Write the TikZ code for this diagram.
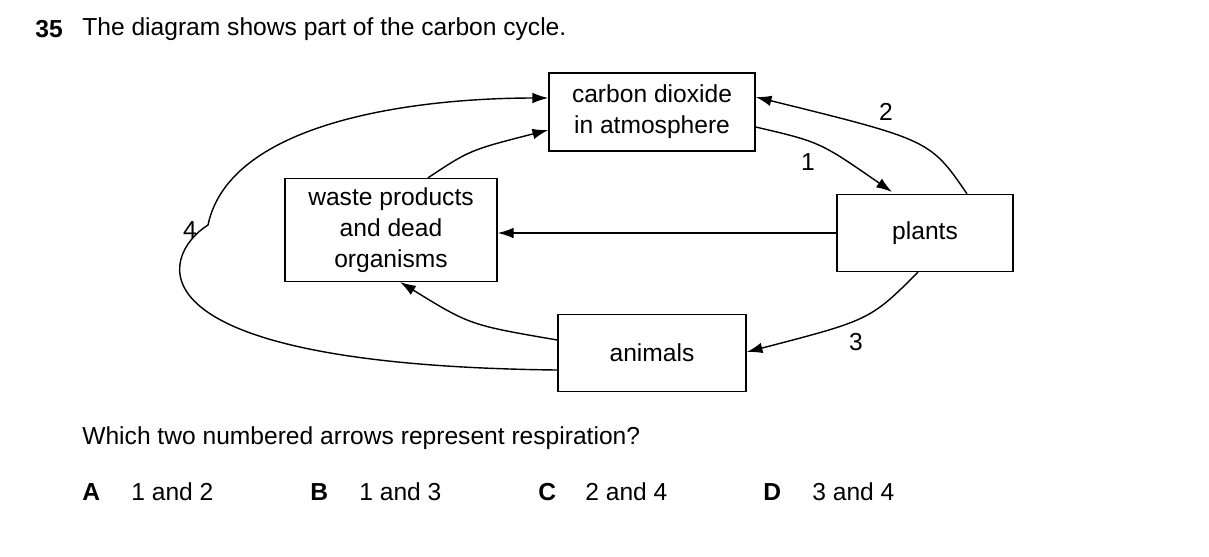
\documentclass[tikz,border=0pt]{standalone}
\usepackage{fontspec}
\setmainfont{Liberation Sans}
\usetikzlibrary{arrows.meta}
\tikzset{
  box/.style={draw, thick, align=center, inner sep=0pt, font=\fontsize{14}{17.5}\selectfont},
  flow/.style={-{Latex[length=9pt,width=6pt]}, thick},
  txt/.style={anchor=west, inner sep=0pt, font=\fontsize{14}{17}\selectfont}
}
\begin{document}
\begin{tikzpicture}[x=0.02cm, y=-0.02cm]
    \useasboundingbox (0,0) rectangle (1209,556);
    % Boxes
    \node[box, minimum width=206*0.02cm, minimum height=78*0.02cm] (co2) at (652,112) {carbon dioxide\\in atmosphere};
    \node[box, minimum width=212*0.02cm, minimum height=103*0.02cm] (waste) at (391,230) {waste products\\and dead\\organisms};
    \node[box, minimum width=176*0.02cm, minimum height=77*0.02cm] (plants) at (925,233) {plants};
    \node[box, minimum width=188*0.02cm, minimum height=77*0.02cm] (animals) at (652,353) {animals};
    % Arrows
    \draw[flow] (co2.east |- 0,127) .. controls (820,142) .. (892,192) node[txt, pos=0.5, anchor=center] at (808,162) {};
    \draw[flow] (plants.north -| 967,0) .. controls (930,140) .. (co2.east |- 0,97);
    \draw[flow] (waste.north -| 428,0) .. controls (470,150) .. (co2.west |- 0,130);
    \draw[flow] (animals.west |- 0,370) .. controls (120,365) and (160,255) .. (208,225)
                .. controls (230,120) and (420,98) .. (co2.west |- 0,98);
    \draw[flow] (plants.west) -- (waste.east |- plants.west);
    \draw[flow] (plants.south -| 918,0) .. controls (870,320) .. (animals.east |- 0,352);
    \draw[flow] (animals.west |- 0,340) .. controls (470,325) .. (400,282);
    % Numbers
    \node[font=\fontsize{14}{17}\selectfont] (n1) at (808,162) {1};
    \node[font=\fontsize{14}{17}\selectfont] (n2) at (886,112) {2};
    \node[font=\fontsize{14}{17}\selectfont] (n3) at (856,342) {3};
    \node[font=\fontsize{14}{17}\selectfont] (n4) at (190,230) {4};
    % Question
    \node[txt, font=\fontsize{14}{17}\selectfont\bfseries] (qnum) at (35,29) {35};
    \node[txt] (title) at (82,29) {The diagram shows part of the carbon cycle.};
    \node[txt] (quest) at (82,438) {Which two numbered arrows represent respiration?};
    \node[txt, font=\fontsize{14}{17}\selectfont\bfseries] (la) at (82,492) {A};
    \node[txt] (oa) at (131,492) {1 and 2};
    \node[txt, font=\fontsize{14}{17}\selectfont\bfseries] (lb) at (310,492) {B};
    \node[txt] (ob) at (359,492) {1 and 3};
    \node[txt, font=\fontsize{14}{17}\selectfont\bfseries] (lc) at (538,492) {C};
    \node[txt] (oc) at (585,492) {2 and 4};
    \node[txt, font=\fontsize{14}{17}\selectfont\bfseries] (ld) at (763,492) {D};
    \node[txt] (od) at (812,492) {3 and 4};
\end{tikzpicture}
\end{document}
